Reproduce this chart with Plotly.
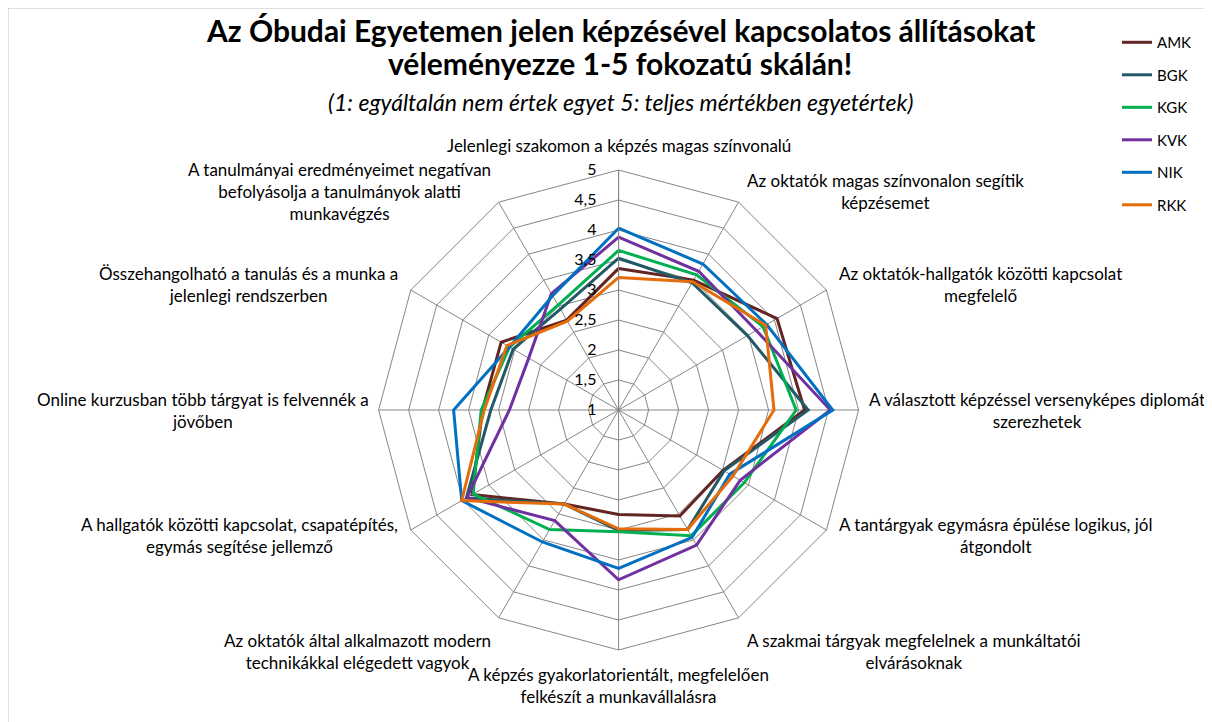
import math
import plotly.graph_objects as go

categories = [
    "Jelenlegi szakomon a képzés magas színvonalú",
    "Az oktatók magas színvonalon segítik<br>képzésemet",
    "Az oktatók-hallgatók közötti kapcsolat<br>megfelelő",
    "A választott képzéssel versenyképes diplomát<br>szerezhetek",
    "A tantárgyak egymásra épülése logikus, jól<br>átgondolt",
    "A szakmai tárgyak megfelelnek a munkáltatói<br>elvárásoknak",
    "A képzés gyakorlatorientált, megfelelően<br>felkészít a munkavállalásra",
    "Az oktatók által alkalmazott modern<br>technikákkal elégedett vagyok",
    "A hallgatók közötti kapcsolat, csapatépítés,<br>egymás segítése jellemző",
    "Online kurzusban több tárgyat is felvennék a<br>jövőben",
    "Összehangolható a tanulás és a munka a<br>jelenlegi rendszerben",
    "A tanulmányai eredményeimet negatívan<br>befolyásolja a tanulmányok alatti<br>munkavégzés",
]

amk = [3.36, 3.50, 4.05, 4.10, 3.01, 3.04, 2.74, 2.81, 3.82, 3.27, 3.26, 2.73]
bgk = [3.53, 3.45, 3.48, 4.16, 3.03, 3.30, 3.01, 2.81, 3.93, 3.13, 3.03, 2.94]
kgk = [3.66, 3.60, 3.78, 3.96, 3.42, 3.42, 3.03, 3.30, 3.80, 3.29, 3.10, 3.02]
kvk = [3.88, 3.67, 3.65, 4.53, 3.34, 3.60, 3.83, 3.13, 3.92, 2.82, 2.73, 3.24]
nik = [4.03, 3.81, 3.85, 4.57, 3.14, 3.45, 3.64, 3.54, 4.02, 3.75, 3.10, 3.20]
rkk = [3.21, 3.47, 3.83, 3.59, 3.20, 3.30, 2.98, 2.81, 4.02, 3.24, 3.15, 2.71]

series = [
    ("AMK", amk, "#632523"),
    ("BGK", bgk, "#215967"),
    ("KGK", kgk, "#00b050"),
    ("KVK", kvk, "#7030a0"),
    ("NIK", nik, "#0070c0"),
    ("RKK", rkk, "#e46c0a"),
]

fnt = "Lato, Calibri, sans-serif"
W, H = 1212, 722
dom_x = [0.3058, 0.7018]
dom_y = [0.1108, 0.7756]

fig = go.Figure()
for name, vals, col in series:
    fig.add_trace(go.Scatterpolar(
        r=vals + vals[:1],
        theta=categories + categories[:1],
        mode="lines",
        name=name,
        legendgroup=name,
        line=dict(color=col, width=3),
    ))

# category labels placed just outside each spoke, centred text like Excel
cx = sum(dom_x) / 2 * W
cy = (1 - sum(dom_y) / 2) * H
rad = (dom_x[1] - dom_x[0]) * W / 2
annots = []
n = len(categories)
for i, lab in enumerate(categories):
    ang = math.radians(90 - 360 / n * i)
    c, s = math.cos(ang), math.sin(ang)
    gap = 12 if abs(c) < 0.9 else 8
    px = cx + (rad + gap) * c
    py = cy - (rad + gap) * s
    xa = "left" if c > 0.01 else ("right" if c < -0.01 else "center")
    ya = "bottom" if s > 0.99 else ("top" if s < -0.6 else "middle")
    annots.append(dict(text=lab, x=px / W, y=1 - py / H, xanchor=xa, yanchor=ya,
                       align="center", font=dict(size=17)))

titles = [
    ("<b>Az Óbudai Egyetemen jelen képzésével kapcsolatos állításokat</b>", 22, 30),
    ("<b>véleményezze 1-5 fokozatú skálán!</b>", 55, 30),
    ("<i>(1: egyáltalán nem értek egyet 5: teljes mértékben egyetértek)</i>", 94, 23),
]
for txt, ypx, sz in titles:
    annots.append(dict(text=txt, x=0.505, y=1 - ypx / H, xanchor="center",
                       yanchor="middle", font=dict(size=sz)))

for a in annots:
    a.update(xref="paper", yref="paper", showarrow=False)

fig.update_layout(
    width=W, height=H,
    margin=dict(l=0, r=0, t=0, b=0),
    paper_bgcolor="white",
    separators=", ",
    font=dict(family=fnt, size=14, color="black"),
    polar=dict(
        domain=dict(x=dom_x, y=dom_y),
        bgcolor="white",
        gridshape="linear",
        radialaxis=dict(
            range=[1, 5], dtick=0.5, angle=90, tickangle=90,
            side="counterclockwise", ticksuffix="\u2002\u2002",
            showline=True, linecolor="#868686", linewidth=1,
            gridcolor="#868686", gridwidth=1,
            ticks="", tickfont=dict(size=16, color="black"),
        ),
        angularaxis=dict(
            direction="clockwise", rotation=90,
            linecolor="#868686", gridcolor="#868686",
            ticks="", showticklabels=False,
        ),
    ),
    legend=dict(
        x=0.915, y=0.975, xanchor="left", yanchor="top",
        font=dict(size=15), tracegroupgap=10,
        bgcolor="rgba(0,0,0,0)",
    ),
    shapes=[dict(type="rect", xref="paper", yref="paper", x0=0, y0=0, x1=1, y1=1,
                 line=dict(color="#bfbfbf", width=1))],
    annotations=annots,
)

fig.write_html("out.html")
